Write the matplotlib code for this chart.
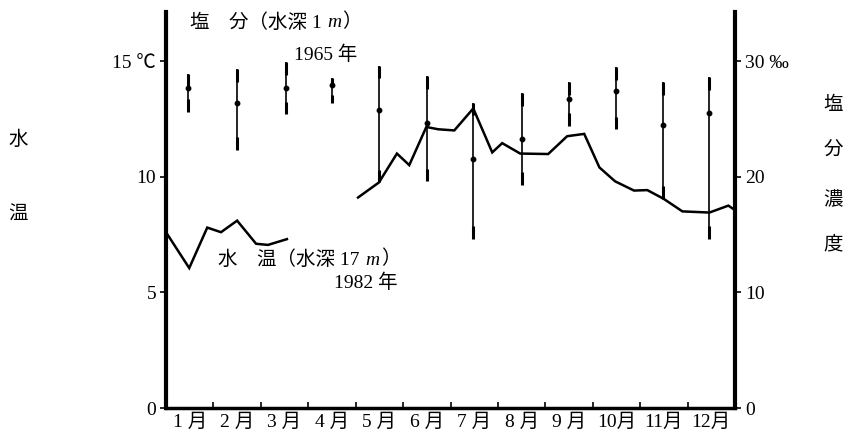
import numpy as np
import matplotlib.pyplot as plt
from matplotlib.transforms import offset_copy

plt.rcParams['font.family'] = ['Liberation Serif', 'Noto Sans CJK JP', 'DejaVu Sans']

# month labels (x axis runs 0..12, one unit per month)
months = ['1 月', '2 月', '3 月', '4 月', '5 月', '6 月',
          '7 月', '8 月', '9 月', '10月', '11月', '12月']

# water temperature at 17 m, 1982 (two pieces, gap in April)
t1_x = [0.0, 0.49, 0.87, 1.16, 1.50, 1.90, 2.15, 2.55]
t1_y = [7.6, 6.05, 7.8, 7.6, 8.1, 7.1, 7.05, 7.3]
t2_x = [4.05, 4.49, 4.87, 5.13, 5.49, 5.74, 6.08, 6.48, 6.88, 7.09, 7.47,
        8.06, 8.46, 8.82, 9.14, 9.47, 9.87, 10.15, 10.49, 10.89, 11.46,
        11.86, 12.0]
t2_y = [9.1, 9.75, 11.0, 10.5, 12.15, 12.05, 12.0, 12.95, 11.05, 11.45,
        11.0, 10.98, 11.75, 11.85, 10.4, 9.8, 9.4, 9.42, 9.05, 8.5, 8.45,
        8.75, 8.55]

# salinity at 1 m, 1965 (per month: max, mean, min)
sal_x = [0.46, 1.50, 2.53, 3.50, 4.49, 5.50, 6.48, 7.51, 8.50, 9.49, 10.48, 11.46]
sal_max = [28.9, 29.3, 29.9, 28.5, 29.6, 28.7, 26.4, 27.2, 28.2, 29.5, 28.2, 28.6]
sal_mean = [27.7, 26.4, 27.7, 27.9, 25.8, 24.6, 21.5, 23.3, 26.7, 27.4, 24.5, 25.5]
sal_min = [25.6, 22.3, 25.4, 26.4, 19.5, 19.6, 14.6, 19.3, 24.4, 24.1, 18.1, 14.6]

fig = plt.figure(figsize=(8.53, 4.36), dpi=100)
ax = fig.add_axes([0.1946, 0.0642, 0.6671, 0.9083])
ax2 = ax.twinx()

ax.set_xlim(0, 12)
ax.set_ylim(0, 17.12)
ax2.set_ylim(0, 34.24)

ax.plot(t1_x, t1_y, color='black', lw=1.8, solid_joinstyle='miter')
ax.plot(t2_x, t2_y, color='black', lw=1.8, solid_joinstyle='miter')

# range bars: thin line, pen-like thicker strokes at both ends
smax = np.array(sal_max)
smin = np.array(sal_min)
ends = np.minimum(1.1, (smax - smin) / 3)
ax2.vlines(sal_x, smin, smax, color='black', lw=1.2)
ax2.vlines(sal_x, smax - ends, smax, color='black', lw=2.2)
ax2.vlines(sal_x, smin, smin + ends, color='black', lw=2.2)
ax2.plot(sal_x, sal_mean, 'o', color='black', ms=3.2)

for a in (ax, ax2):
    a.spines['top'].set_visible(False)
ax.spines['left'].set_linewidth(3)
ax.spines['bottom'].set_linewidth(2.5)
ax2.spines['right'].set_linewidth(3)
ax2.spines['left'].set_visible(False)
ax2.spines['bottom'].set_visible(False)

ax.set_xticks(np.arange(0, 13))
ax.set_xticklabels([])
ax.set_xticks(np.arange(12) + 0.5, minor=True)
ax.set_xticklabels(months, minor=True, fontsize=14)
ax.tick_params(axis='x', which='major', direction='in', length=4, width=1.2)
ax.tick_params(axis='x', which='minor', length=0, pad=4)

ax.set_yticks([0, 5, 10, 15])
ax.set_yticklabels(['0', '5', '10', '15 ℃'], fontsize=14)
ax.tick_params(axis='y', direction='out', length=4, width=1.2, pad=3)

ax2.set_yticks([0, 10, 20, 30])
ax2.set_yticklabels(['0', '10', '20', '30 ‰'], fontsize=14)
ax2.tick_params(axis='y', direction='out', length=4, width=1.2, pad=3)

# axis titles, written vertically one character per line
fig.text(0.021, 0.68, '水', fontsize=14, ha='center', va='center')
fig.text(0.021, 0.507, '温', fontsize=14, ha='center', va='center')
for ch, yy in zip('塩分濃度', [0.759, 0.656, 0.541, 0.438]):
    fig.text(0.977, yy, ch, fontsize=14, ha='center', va='center')

renderer = fig.canvas.get_renderer()


def label(x, y, parts):
    # write pieces one after another; the unit m is italic
    dx = 0
    for s, st in parts:
        tr = offset_copy(ax.transData, fig=fig, x=dx, y=0, units='dots')
        t = ax.text(x, y, s, fontsize=14, va='baseline', style=st, transform=tr)
        dx += t.get_window_extent(renderer).width + 1


label(0.5, 16.45, [('塩　分（水深 1 ', 'normal'), ('m', 'italic'), ('）', 'normal')])
ax.text(2.7, 15.05, '1965 年', fontsize=14, va='baseline')
label(1.1, 6.2, [('水　温（水深 17 ', 'normal'), ('m', 'italic'), ('）', 'normal')])
ax.text(3.55, 5.2, '1982 年', fontsize=14, va='baseline')

fig.savefig('out.png', dpi=100)
